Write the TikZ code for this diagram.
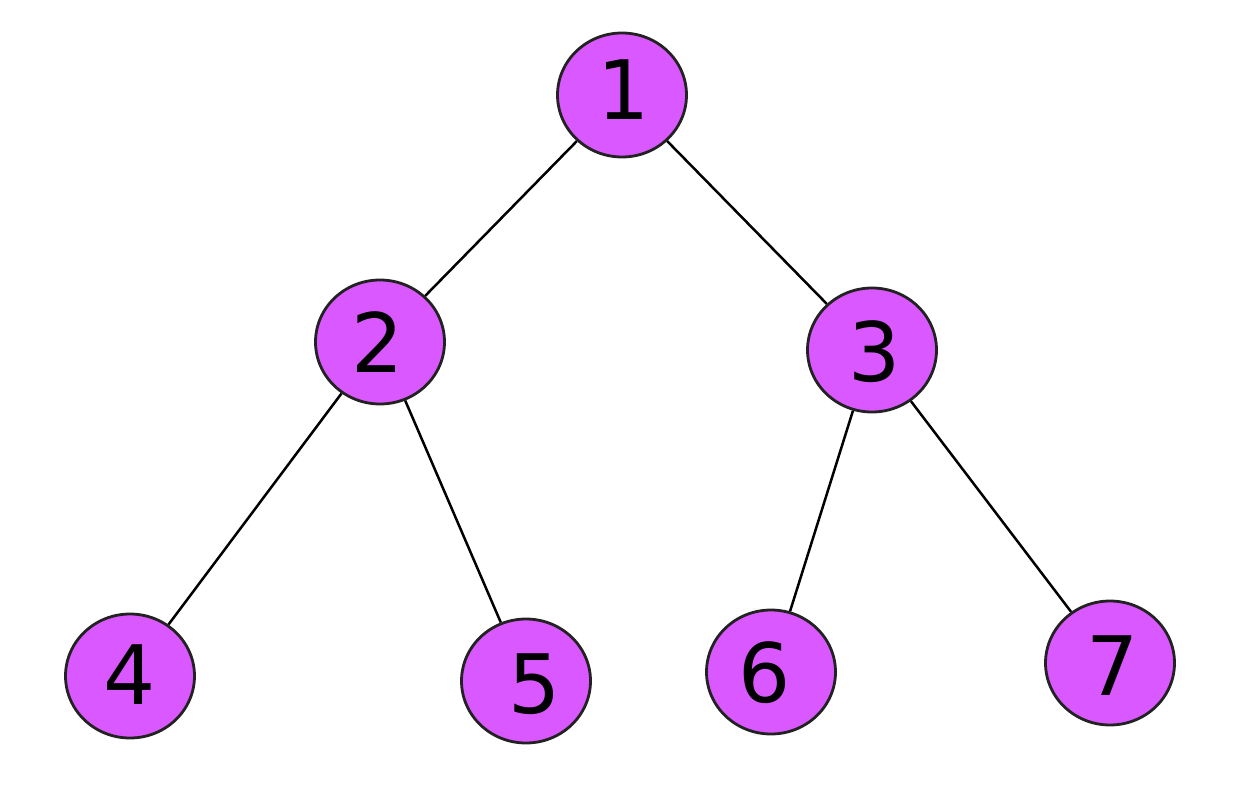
\documentclass[tikz,border=0pt]{standalone}
\usepackage{fontspec}
\setmainfont{DejaVu Sans}
\usetikzlibrary{shapes.geometric}
\definecolor{nodefill}{HTML}{DA58FF}
\definecolor{nodeline}{HTML}{222222}
\tikzset{
  treenode/.style={ellipse, draw=nodeline, line width=2.8pt, fill=nodefill,
    minimum width=129pt, minimum height=124pt, inner sep=0pt,
    font=\fontsize{82}{82}\selectfont},
  edge/.style={line width=2.5pt, black}
}
\begin{document}
\begin{tikzpicture}[x=1pt,y=-1pt]
\useasboundingbox (0,0) rectangle (1257,789);
\node[treenode] (n1) at (622,95) {};
\node[treenode] (n2) at (380,342) {};
\node[treenode] (n3) at (872,350) {};
\node[treenode] (n4) at (130,676) {};
\node[treenode] (n5) at (526,681) {};
\node[treenode] (n6) at (771,672) {};
\node[treenode] (n7) at (1110,663) {};
\draw[edge] (n1) -- (n2);
\draw[edge] (n1) -- (n3);
\draw[edge] (n2) -- (n4);
\draw[edge] (n2) -- (n5);
\draw[edge] (n3) -- (n6);
\draw[edge] (n3) -- (n7);
\node[treenode,draw=none,fill=none] (t1) at (624,90) {1};
\node[treenode,draw=none,fill=none] (t2) at (378,342) {2};
\node[treenode,draw=none,fill=none] (t3) at (875,352) {3};
\node[treenode,draw=none,fill=none] (t4) at (130,675) {4};
\node[treenode,draw=none,fill=none] (t5) at (535,684) {5};
\node[treenode,draw=none,fill=none] (t6) at (765,673) {6};
\node[treenode,draw=none,fill=none] (t7) at (1113,666) {7};
\end{tikzpicture}
\end{document}
